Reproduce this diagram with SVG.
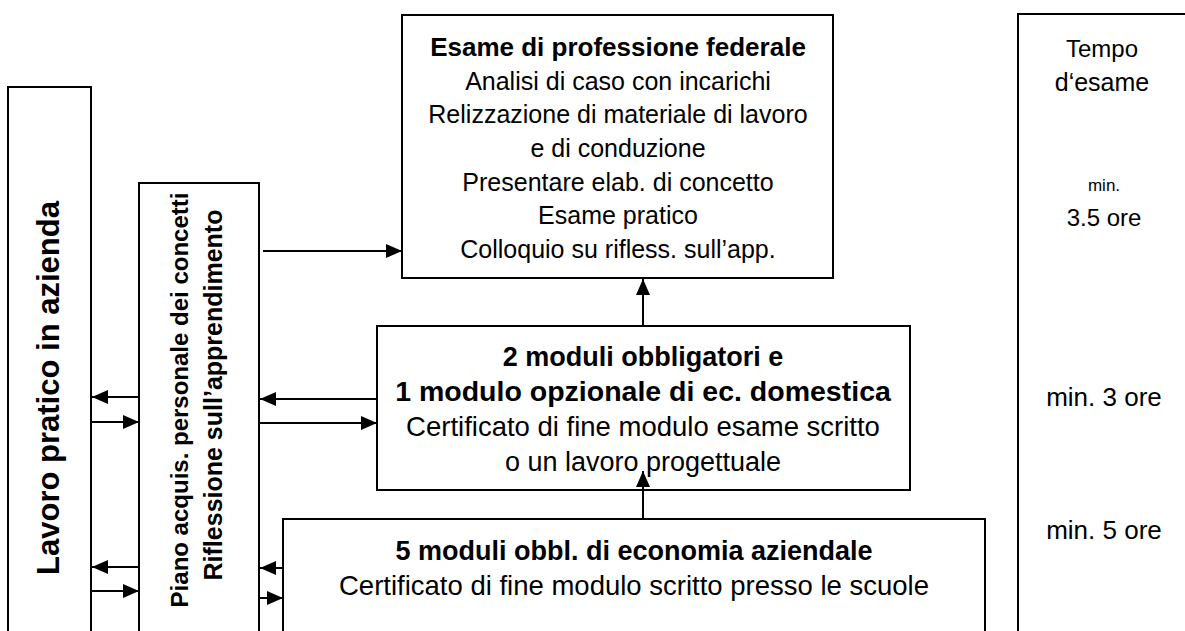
<svg xmlns="http://www.w3.org/2000/svg" width="1185" height="631" viewBox="0 0 1185 631">
<style>
.box{fill:#fff;stroke:#000;stroke-width:2}
.t{font-family:"Liberation Sans",Arial,sans-serif;fill:#000;text-anchor:middle}
.b{font-weight:bold}
.c{stroke:#000;stroke-width:2;fill:none}
</style>
<defs>
<marker id="ah" markerUnits="userSpaceOnUse" markerWidth="16" markerHeight="14" refX="16" refY="7" orient="auto">
<path d="M0,0 L16,7 L0,14 z" fill="#000"/>
</marker>
</defs>
<rect width="1185" height="631" fill="#fff"/>
<g id="lavoro">
<rect class="box" x="8" y="87" width="83" height="560"/>
<text class="t b" font-size="31" transform="translate(59,388) rotate(-90)">Lavoro pratico in azienda</text>
</g>
<g id="piano">
<rect class="box" x="139" y="183" width="120" height="460"/>
<text class="t b" font-size="24" transform="translate(188,400) rotate(-90)">Piano acquis. personale dei concetti</text>
<text class="t b" font-size="25" transform="translate(222,395) rotate(-90)">Riflessione sull’apprendimento</text>
</g>
<g id="esame">
<rect class="box" x="402" y="15" width="431" height="263"/>
<text class="t b" font-size="26" x="618" y="56">Esame di professione federale</text>
<text class="t" font-size="25" x="618" y="90">Analisi di caso con incarichi</text>
<text class="t" font-size="25" x="618" y="123">Relizzazione di materiale di lavoro</text>
<text class="t" font-size="25" x="618" y="157">e di conduzione</text>
<text class="t" font-size="25" x="618" y="191">Presentare elab. di concetto</text>
<text class="t" font-size="25" x="618" y="224">Esame pratico</text>
<text class="t" font-size="25" x="618" y="258">Colloquio su rifless. sull’app.</text>
</g>
<g id="moduli">
<rect class="box" x="377" y="326" width="533" height="164"/>
<text class="t b" font-size="27" x="643" y="366">2 moduli obbligatori e</text>
<text class="t b" font-size="28.5" x="643" y="401">1 modulo opzionale di ec. domestica</text>
<text class="t" font-size="27.5" x="643" y="436">Certificato di fine modulo esame scritto</text>
<text class="t" font-size="27" x="643" y="471">o un lavoro progettuale</text>
</g>
<g id="economia">
<rect class="box" x="283" y="519" width="702" height="130"/>
<text class="t b" font-size="27" x="634" y="560">5 moduli obbl. di economia aziendale</text>
<text class="t" font-size="27.5" x="634" y="595">Certificato di fine modulo scritto presso le scuole</text>
</g>
<g id="tempo">
<rect class="box" x="1018" y="14" width="200" height="640"/>
<text class="t" font-size="24" x="1102" y="57">Tempo</text>
<text class="t" font-size="25" x="1102" y="91">d‘esame</text>
<text class="t" font-size="17" x="1104" y="191">min.</text>
<text class="t" font-size="24" x="1104" y="226">3.5 ore</text>
<text class="t" font-size="26" x="1104" y="406">min. 3 ore</text>
<text class="t" font-size="26" x="1104" y="539">min. 5 ore</text>
</g>
<g id="connectors">
<line class="c" x1="263" y1="251" x2="402" y2="251" marker-end="url(#ah)"/>
<line class="c" x1="643" y1="326" x2="643" y2="279" marker-end="url(#ah)"/>
<line class="c" x1="643" y1="519" x2="643" y2="471" marker-end="url(#ah)"/>
<line class="c" x1="139" y1="397" x2="92" y2="397" marker-end="url(#ah)"/>
<line class="c" x1="92" y1="422" x2="139" y2="422" marker-end="url(#ah)"/>
<line class="c" x1="377" y1="399" x2="260" y2="399" marker-end="url(#ah)"/>
<line class="c" x1="260" y1="423" x2="377" y2="423" marker-end="url(#ah)"/>
<line class="c" x1="139" y1="567" x2="92" y2="567" marker-end="url(#ah)"/>
<line class="c" x1="92" y1="591" x2="139" y2="591" marker-end="url(#ah)"/>
<line class="c" x1="283" y1="568" x2="260" y2="568" marker-end="url(#ah)"/>
<line class="c" x1="260" y1="598" x2="283" y2="598" marker-end="url(#ah)"/>
</g>
</svg>
